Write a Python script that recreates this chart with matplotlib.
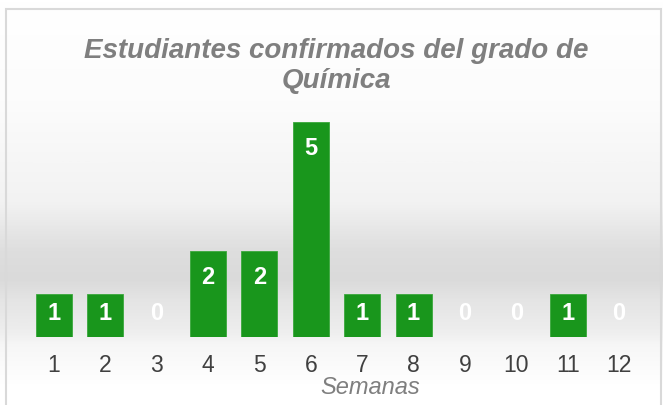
import numpy as np
import matplotlib.pyplot as plt
from matplotlib.colors import LinearSegmentedColormap
from matplotlib.patches import Rectangle

semanas = ['1', '2', '3', '4', '5', '6', '7', '8', '9', '10', '11', '12']
estudiantes = [1, 1, 0, 2, 2, 5, 1, 1, 0, 0, 1, 0]

titulo = "Estudiantes confirmados del grado de\nQuímica"
eje_x = "Semanas"

plt.rcParams['font.family'] = ['Liberation Sans', 'DejaVu Sans']

fig = plt.figure(figsize=(6.63, 4.05), dpi=100)

# background gradient (white -> grey band -> white)
bg = fig.add_axes([0, 0, 1, 1], zorder=-10)
stops = [(0.0, '#ffffff'), (0.05, '#ffffff'), (0.15, '#f6f6f6'), (0.17, '#f0f0f0'),
         (0.2, '#ebebeb'), (0.26, '#e4e4e4'), (0.31, '#dadada'), (0.38, '#dedede'),
         (0.5, '#f2f2f2'), (0.75, '#fcfcfc'), (1.0, '#ffffff')]
cmap = LinearSegmentedColormap.from_list('bg', stops)
grad = np.linspace(0, 1, 400).reshape(-1, 1)
bg.imshow(grad, aspect='auto', cmap=cmap, extent=[0, 1, 0, 1], origin='lower')
bg.set_xlim(0, 1)
bg.set_ylim(0, 1)
bg.axis('off')

fig.patches.append(Rectangle((0.009, -0.01), 0.988, 0.988, transform=fig.transFigure,
                             fill=False, edgecolor='#d9d9d9', linewidth=1.5))

ax = fig.add_axes([0.0427, 0.168, 0.9297, 0.585])
ax.patch.set_alpha(0)
x = np.arange(len(semanas))
ax.bar(x, estudiantes, width=0.7, color='#19961c', edgecolor='#3aa83c', linewidth=0.6)

for xi, v in zip(x, estudiantes):
    y = 0.55 if v <= 1 else v - 0.63
    ax.text(xi, y, str(v), ha='center', va='center', color='white',
            fontsize=17, fontweight='bold')

ax.set_xlim(-0.5, len(semanas) - 0.5)
ax.set_ylim(0, 5.5)
ax.set_xticks(x)
ax.set_xticklabels(semanas, fontsize=16.5, color='#404040')
ax.tick_params(axis='x', length=0, pad=12)
ax.set_yticks([])
for s in ax.spines.values():
    s.set_visible(False)

fig.text(0.558, 0.044, eje_x, ha='center', va='center', fontsize=17,
         style='italic', color='#7f7f7f')
fig.text(0.507, 0.836, titulo, ha='center', va='center', fontsize=20,
         style='italic', fontweight='bold', color='#7f7f7f', linespacing=1.2)

fig.savefig('out.png', dpi=100)
